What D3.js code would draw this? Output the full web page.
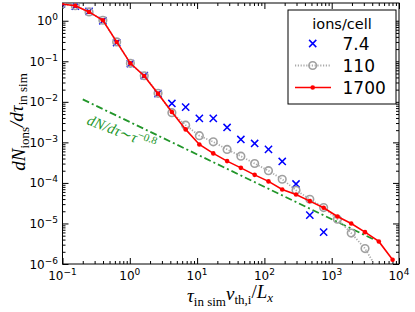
<!DOCTYPE html>
<html>
<head>
<meta charset="utf-8">
<script src="https://cdn.jsdelivr.net/npm/d3@7"></script>
<style>
  body { margin: 0; background: #fff; }
  text { font-family: "DejaVu Sans", sans-serif; }
  .math { font-family: "Liberation Serif", "DejaVu Serif", serif; }
</style>
</head>
<body>
<script>
// time bins (tau v_th,i / L_x)
const tau = [0.0966, 0.155, 0.248, 0.398, 0.638, 1.02, 1.64, 2.63, 4.22, 6.76, 10.8, 17.4, 27.9,
  44.7, 71.6, 115, 184, 295, 473, 759, 1216, 1950, 3126, 5012, 8035];

// dN/dtau for each resolution
const ions7 = [2.6, 2.3, 1.7, 1.0, 0.29, 0.087, 0.044, 0.016, 0.0091, 0.0074, 0.0039, 0.0039, 0.00233,
  0.00118, 0.00094, 0.00067, 0.000338, 9.4e-5, 1.6e-5, 6.1e-6];
const ions110 = [2.6, 2.35, 1.65, 1.03, 0.3, 0.089, 0.044, 0.0162, 0.0054, 0.00266, 0.00146, 0.00103,
  0.00067, 0.000456, 0.000301, 0.0002, 0.000123, 6.6e-5, 3.96e-5, 2.47e-5, 1.27e-5, 5.8e-6, 2.4e-6, 6.5e-7];
const ions1700 = [2.6, 2.35, 1.65, 1.03, 0.30, 0.089, 0.0434, 0.0159, 0.0056, 0.00209, 0.00089, 0.000535,
  0.000345, 0.000235, 0.000158, 0.000109, 6.9e-5, 5.2e-5, 3.56e-5, 2.44e-5, 1.49e-5, 1.0e-5, 6.1e-6,
  3.6e-6, 1.27e-6];

// tau^-0.8 guide line
const guideX = [0.2, 4400];
const guideY = [1.15e-2, 3.9e-6];

const legendLabels = ["7.4", "110", "1700"];
const xTickExps = [-1, 0, 1, 2, 3, 4];
const yTickExps = [-6, -5, -4, -3, -2, -1, 0];

const W = 415, H = 312;
const pLeft = 62.5, pRight = 399, pTop = 3, pBottom = 264;

const svg = d3.select("body").append("svg").attr("width", W).attr("height", H);

const x = d3.scaleLog().domain([0.1, 1e4]).range([pLeft, pRight]);
const y = d3.scaleLog().domain([1e-6, 2.74]).range([pBottom, pTop]);

svg.append("clipPath").attr("id", "plot")
  .append("rect").attr("x", pLeft).attr("y", pTop).attr("width", pRight - pLeft).attr("height", pBottom - pTop);

// major + minor ticks
function minorTicks(exps) {
  const out = [];
  for (let i = 0; i < exps.length - 1; i++)
    for (let m = 2; m <= 9; m++) out.push(m * Math.pow(10, exps[i]));
  return out;
}
const xMajor = xTickExps.map(e => Math.pow(10, e));
const yMajor = yTickExps.map(e => Math.pow(10, e));
const xMinor = minorTicks(xTickExps);
const yMinor = minorTicks([-7].concat(yTickExps)).filter(v => v < 2.74 && v > 1e-6);

function ticks(axis, pos, major, minor) {
  [[major, 6], [minor, 3]].forEach(([vals, len]) => {
    const g = svg.append("g").attr("transform", pos)
      .call(axis.tickValues(vals).tickSize(-len).tickFormat(""));
    g.select(".domain").remove();
    g.selectAll("line").attr("stroke", "#000").attr("stroke-width", 1);
  });
}
ticks(d3.axisBottom(x), `translate(0,${pBottom})`, xMajor, xMinor);
ticks(d3.axisTop(x), `translate(0,${pTop})`, xMajor, xMinor);
ticks(d3.axisLeft(y), `translate(${pLeft},0)`, yMajor, yMinor);
ticks(d3.axisRight(y), `translate(${pRight},0)`, yMajor, yMinor);

// tick labels 10^n
function pow10Label(t, e) {
  t.text("10").append("tspan").attr("dy", "-0.55em").attr("font-size", "9px")
    .text(e < 0 ? "\u2212" + (-e) : e);
}
xTickExps.forEach(e => {
  svg.append("text").attr("x", x(Math.pow(10, e))).attr("y", 279.5)
    .attr("text-anchor", "middle").attr("font-size", "12px")
    .call(t => pow10Label(t, e));
});
yTickExps.forEach(e => {
  svg.append("text").attr("x", 58).attr("y", y(Math.pow(10, e)) + 4.5)
    .attr("text-anchor", "end").attr("font-size", "12px")
    .call(t => pow10Label(t, e));
});

// frame
svg.append("rect").attr("x", pLeft).attr("y", pTop).attr("width", pRight - pLeft).attr("height", pBottom - pTop)
  .attr("fill", "none").attr("stroke", "#000").attr("stroke-width", 1);

const plot = svg.append("g").attr("clip-path", "url(#plot)");
const line = d3.line().x(d => x(d[0])).y(d => y(d[1]));

// guide line
plot.append("path").datum(d3.zip(guideX, guideY)).attr("d", line)
  .attr("fill", "none").attr("stroke", "#22962a").attr("stroke-width", 1.8)
  .attr("stroke-dasharray", "7,3,2,3");

// 7.4 ions/cell: crosses
const xs = d3.zip(tau, ions7);
plot.selectAll(".cross").data(xs).join("path").attr("class", "cross")
  .attr("d", d => { const cx = x(d[0]), cy = y(d[1]), r = 3.6;
    return `M${cx - r},${cy - r}L${cx + r},${cy + r}M${cx - r},${cy + r}L${cx + r},${cy - r}`; })
  .attr("stroke", "#0000ff").attr("stroke-width", 1.5);

// 110 ions/cell
const s110 = d3.zip(tau, ions110);
plot.append("path").datum(s110).attr("d", line)
  .attr("fill", "none").attr("stroke", "#aaaaaa").attr("stroke-width", 1.8)
  .attr("stroke-dasharray", "1.2,1.6");
plot.selectAll(".open").data(s110).join("circle").attr("class", "open")
  .attr("cx", d => x(d[0])).attr("cy", d => y(d[1])).attr("r", 3.8)
  .attr("fill", "none").attr("stroke", "#a0a0a0").attr("stroke-width", 1.6);

// 1700 ions/cell
const s1700 = d3.zip(tau, ions1700);
plot.append("path").datum(s1700).attr("d", line)
  .attr("fill", "none").attr("stroke", "#ff0000").attr("stroke-width", 1.6);
plot.selectAll(".dot").data(s1700).join("circle").attr("class", "dot")
  .attr("cx", d => x(d[0])).attr("cy", d => y(d[1])).attr("r", 2.3).attr("fill", "#ff0000");

// guide annotation
const ann = svg.append("text").attr("class", "math")
  .attr("transform", "translate(86,124) rotate(21)")
  .attr("font-size", "15px").attr("fill", "#22962a").attr("font-style", "italic");
ann.append("tspan").text("dN/d\u03c4");
ann.append("tspan").attr("font-style", "normal").text("\u223c");
ann.append("tspan").text("\u03c4");
ann.append("tspan").attr("dy", "-0.5em").attr("font-size", "11px").attr("font-style", "normal").text("\u22120.8");

// legend
const lg = svg.append("g");
lg.append("rect").attr("x", 288).attr("y", 10).attr("width", 108).attr("height", 94)
  .attr("fill", "#fff").attr("stroke", "#000").attr("stroke-width", 1);
lg.append("text").attr("x", 342).attr("y", 29).attr("text-anchor", "middle")
  .attr("font-size", "14.5px").text("ions/cell");
const rowY = [43.5, 65.5, 87.5];
legendLabels.forEach((lab, i) => {
  lg.append("text").attr("x", 342.5).attr("y", rowY[i] + 6).attr("font-size", "17px").text(lab);
});
const c = 312.7;
lg.append("path").attr("d", `M${c - 3.6},${rowY[0] - 3.6}L${c + 3.6},${rowY[0] + 3.6}M${c - 3.6},${rowY[0] + 3.6}L${c + 3.6},${rowY[0] - 3.6}`)
  .attr("stroke", "#0000ff").attr("stroke-width", 1.5);
lg.append("line").attr("x1", 295).attr("x2", 331).attr("y1", rowY[1]).attr("y2", rowY[1])
  .attr("stroke", "#aaaaaa").attr("stroke-width", 1.8).attr("stroke-dasharray", "1.2,1.6");
lg.append("circle").attr("cx", c).attr("cy", rowY[1]).attr("r", 3.8)
  .attr("fill", "none").attr("stroke", "#a0a0a0").attr("stroke-width", 1.6);
lg.append("line").attr("x1", 295).attr("x2", 331).attr("y1", rowY[2]).attr("y2", rowY[2])
  .attr("stroke", "#ff0000").attr("stroke-width", 1.6);
lg.append("circle").attr("cx", c).attr("cy", rowY[2]).attr("r", 2.3).attr("fill", "#ff0000");

// axis labels
const yl = svg.append("text").attr("class", "math")
  .attr("transform", "translate(25,122) rotate(-90)").attr("text-anchor", "middle").attr("font-size", "19px");
yl.append("tspan").attr("font-style", "italic").text("dN");
yl.append("tspan").attr("dy", "0.3em").attr("font-size", "13px").text("ions");
yl.append("tspan").attr("dy", "-0.3em").attr("font-style", "italic").text("/d\u03c4");
yl.append("tspan").attr("dy", "0.3em").attr("font-size", "13px").text("in sim");

const xl = svg.append("text").attr("class", "math")
  .attr("x", 230).attr("y", 302).attr("text-anchor", "middle").attr("font-size", "19px");
xl.append("tspan").attr("font-style", "italic").text("\u03c4");
xl.append("tspan").attr("dy", "0.3em").attr("font-size", "13px").text("in sim");
xl.append("tspan").attr("dy", "-0.3em").attr("font-style", "italic").text("v");
xl.append("tspan").attr("dy", "0.3em").attr("font-size", "13px").text("th,i");
xl.append("tspan").attr("dy", "-0.3em").text("/");
xl.append("tspan").attr("font-style", "italic").text("L");
xl.append("tspan").attr("dy", "0.3em").attr("font-size", "13px").attr("font-style", "italic").text("x");
</script>
</body>
</html>
